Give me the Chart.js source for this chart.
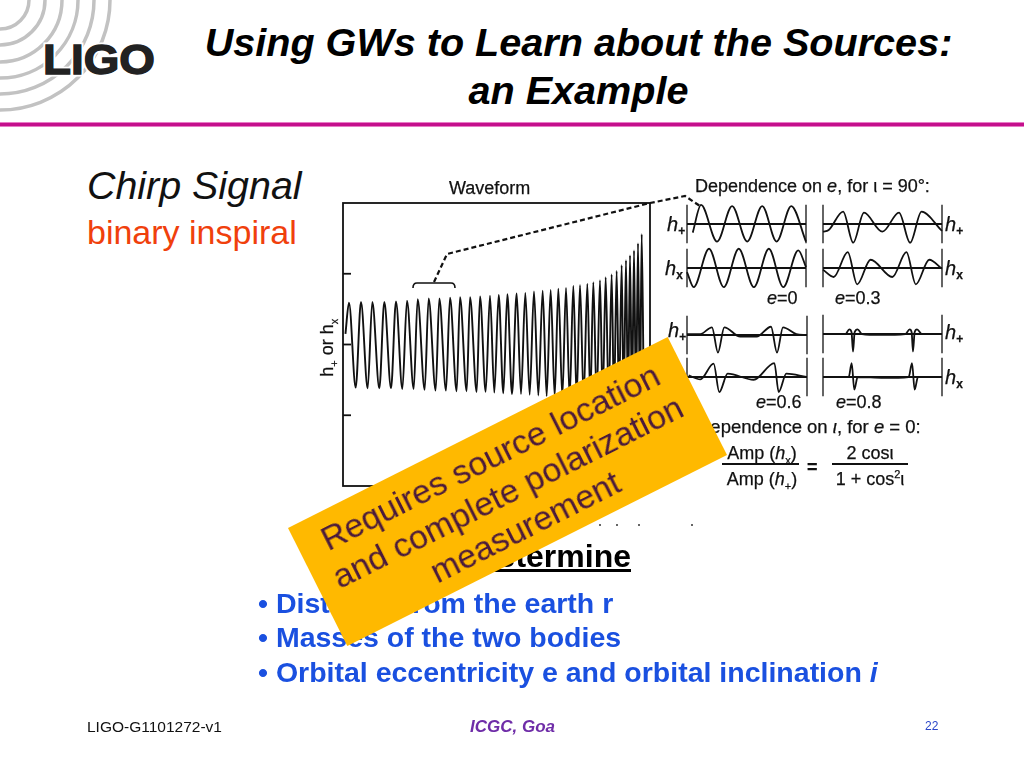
<!DOCTYPE html>
<html>
<head>
<meta charset="utf-8">
<title>Using GWs to Learn about the Sources</title>
<script src="https://cdn.jsdelivr.net/npm/chart.js@4"></script>
<style>
  html, body { margin: 0; padding: 0; background: #fff; }
  #slide { position: relative; width: 1024px; height: 768px; overflow: hidden; font-family: "Liberation Sans", Arial, sans-serif; }
  #slide > div, #slide > canvas, #slide > svg, #figure > div, #figure > canvas, #figure > svg { position: absolute; }
  #figure { left: 0; top: 0; width: 1024px; height: 768px; filter: blur(0.45px); color: #111; }
  .title { left: 140px; width: 877px; text-align: center; font: italic bold 39.6px "Liberation Sans"; color: #000; white-space: nowrap; }
  .bullet { left: 258px; font: bold 28.5px "Liberation Sans"; color: #1a50e0; white-space: nowrap; }
  .txt { font-size: 18px; white-space: nowrap; line-height: 1; -webkit-text-stroke: 0.25px #111; }
  .h { font-size: 20px; font-style: italic; white-space: nowrap; line-height: 1; -webkit-text-stroke: 0.25px #111; }
  .h sub { font-size: 12px; font-style: normal; font-weight: bold; vertical-align: -4px; line-height: 0; }
  .bar { height: 2px; background: #111; }
  #sticky { left: 288px; top: 425px; width: 425px; height: 132px; background: #ffb900; transform-origin: 0 0; }
  #sticky div { text-align: center; font-size: 34px; line-height: 39px; color: #4a1a3c; padding-top: 8px; }

  #wave { left: 341px; top: 201px; }
  #p0plus  { left: 685px; top: 200px; }
  #p0cross { left: 685px; top: 244px; }
  #p3plus  { left: 821px; top: 200px; }
  #p3cross { left: 821px; top: 244px; }
  #p6plus  { left: 685px; top: 311px; }
  #p6cross { left: 685px; top: 353px; }
  #p8plus  { left: 821px; top: 310px; }
  #p8cross { left: 821px; top: 353px; }
</style>
</head>
<body>
<div id="slide">

  <svg width="200" height="125" style="left:0;top:0">
    <g fill="none" stroke="#c2c2c2" stroke-width="3.5">
      <circle cx="0" cy="0" r="29"/><circle cx="0" cy="0" r="45"/><circle cx="0" cy="0" r="62"/>
      <circle cx="0" cy="0" r="78"/><circle cx="0" cy="0" r="94"/><circle cx="0" cy="0" r="110"/>
    </g>
    <text x="43" y="74" font-family="Liberation Sans" font-weight="bold" font-size="43" textLength="112" lengthAdjust="spacingAndGlyphs"
      fill="#222" stroke="#fff" stroke-width="5" paint-order="stroke">LIGO</text>
    <text x="43" y="74" font-family="Liberation Sans" font-weight="bold" font-size="43" textLength="112" lengthAdjust="spacingAndGlyphs"
      fill="#222" stroke="#222" stroke-width="1.4">LIGO</text>
  </svg>

  <div class="title" style="top:20px">Using GWs to Learn about the Sources:</div>
  <div class="title" style="top:68px">an Example</div>
  <div style="left:0;top:122px;width:1024px;height:5px;background:#e77cc6"></div>
  <div style="left:0;top:123px;width:1024px;height:3px;background:#c4108c"></div>

  <div style="left:87px;top:163px;font:italic 39.4px 'Liberation Sans';color:#111;white-space:nowrap">Chirp Signal</div>
  <div style="left:87px;top:213px;font:34px 'Liberation Sans';color:#f0400c;white-space:nowrap">binary inspiral</div>

  <div id="figure">
    <div class="txt" style="left:449px;top:179px">Waveform</div>
    <div class="txt" style="left:299px;top:337px;width:60px;text-align:center;transform:rotate(-90deg)">h<sub style="font-size:11px">+</sub> or h<sub style="font-size:11px">x</sub></div>
    <canvas id="wave" width="311" height="287"></canvas>

    <svg width="1024" height="768" style="left:0;top:0">
      <polyline points="434,282 447,254 650,203 685,196 700,206" fill="none" stroke="#111" stroke-width="2.2" stroke-dasharray="5 3"/>
      <path d="M413,288 Q413,283 417,283 L451,283 Q455,283 455,288" fill="none" stroke="#111" stroke-width="1.6"/>
      <g fill="#333"><circle cx="600" cy="525" r="1"/><circle cx="617" cy="525" r="1"/><circle cx="639" cy="525" r="1"/><circle cx="692" cy="525" r="1"/></g>
    </svg>

    <div class="txt" style="left:695px;top:177px">Dependence on <i>e</i>, for ι = 90°:</div>
    <canvas id="p0plus" width="123" height="48"></canvas>
    <canvas id="p0cross" width="123" height="48"></canvas>
    <canvas id="p3plus" width="123" height="48"></canvas>
    <canvas id="p3cross" width="123" height="48"></canvas>
    <canvas id="p6plus" width="124" height="48"></canvas>
    <canvas id="p6cross" width="124" height="48"></canvas>
    <canvas id="p8plus" width="123" height="48"></canvas>
    <canvas id="p8cross" width="123" height="48"></canvas>

    <div class="h" style="left:667px;top:214px">h<sub>+</sub></div>
    <div class="h" style="left:665px;top:258px">h<sub>x</sub></div>
    <div class="h" style="left:945px;top:214px">h<sub>+</sub></div>
    <div class="h" style="left:945px;top:258px">h<sub>x</sub></div>
    <div class="h" style="left:668px;top:320px">h<sub>+</sub></div>
    <div class="h" style="left:945px;top:322px">h<sub>+</sub></div>
    <div class="h" style="left:945px;top:367px">h<sub>x</sub></div>

    <div class="txt" style="left:767px;top:289px"><i>e</i>=0</div>
    <div class="txt" style="left:835px;top:289px"><i>e</i>=0.3</div>
    <div class="txt" style="left:756px;top:393px"><i>e</i>=0.6</div>
    <div class="txt" style="left:836px;top:393px"><i>e</i>=0.8</div>

    <div class="txt" style="left:697px;top:418px;font-size:18.5px">Dependence on <i>ι</i>, for <i>e</i> = 0:</div>
    <div class="txt" style="left:722px;width:80px;top:444px;text-align:center">Amp (<i>h</i><sub style="font-size:11px;line-height:0">x</sub>)</div>
    <div class="bar" style="left:722px;top:463px;width:77px"></div>
    <div class="txt" style="left:722px;width:80px;top:470px;text-align:center">Amp (<i>h</i><sub style="font-size:11px;line-height:0">+</sub>)</div>
    <div class="txt" style="left:807px;top:458px;font-weight:bold">=</div>
    <div class="txt" style="left:832px;width:76px;top:444px;text-align:center">2 cosι</div>
    <div class="bar" style="left:832px;top:463px;width:76px"></div>
    <div class="txt" style="left:832px;width:76px;top:470px;text-align:center">1 + cos<sup style="font-size:11px;line-height:0">2</sup>ι</div>
  </div>

  <div style="left:400px;width:231px;top:538px;text-align:right;font:bold 32px 'Liberation Sans';color:#000;text-decoration:underline;white-space:nowrap">Determine</div>

  <div class="bullet" style="top:587px">• Distance from the earth r</div>
  <div class="bullet" style="top:621px">• Masses of the two bodies</div>
  <div class="bullet" style="top:656px">• Orbital eccentricity e and orbital inclination <i>i</i></div>

  <div id="sticky" style="transform:translate(0,103px) rotate(-26.7deg)"><div>Requires source location<br>and complete polarization<br>measurement</div></div>

  <div style="left:87px;top:718px;font:15.5px 'Liberation Sans';color:#111;white-space:nowrap">LIGO-G1101272-v1</div>
  <div style="left:470px;top:717px;font:italic bold 17px 'Liberation Sans';color:#6f2da8;white-space:nowrap">ICGC, Goa</div>
  <div style="left:925px;top:719px;font:12px 'Liberation Sans';color:#2a45c8">22</div>
</div>

<script>
// Forma de onda principal: tempos e amplitudes dos picos e vales
const peakTimes = [1.95, 5.86, 9.55, 13.46, 17.26, 20.85, 24.32, 27.90, 31.38, 34.85, 38.11, 41.37, 44.63, 47.88, 50.71, 53.53, 56.57, 59.39, 62.21, 65.04, 67.64, 70.14, 72.64, 75.03, 77.20, 79.59, 81.54, 83.71, 85.56, 87.51, 89.14, 90.77, 92.18, 93.49, 94.79, 96.09, 97.29];
const peakAmps = [0.59, 0.60, 0.60, 0.60, 0.61, 0.62, 0.64, 0.65, 0.65, 0.66, 0.67, 0.67, 0.68, 0.69, 0.70, 0.71, 0.72, 0.73, 0.75, 0.76, 0.77, 0.79, 0.80, 0.83, 0.84, 0.86, 0.88, 0.91, 0.95, 0.99, 1.04, 1.12, 1.19, 1.26, 1.33, 1.43, 1.56];
const troughTimes = [4.13, 8.03, 11.83, 15.64, 19.33, 23.02, 26.60, 30.18, 33.55, 37.02, 40.28, 43.54, 46.47, 49.29, 52.23, 55.05, 57.98, 60.80, 63.63, 66.34, 68.95, 71.44, 73.83, 76.11, 78.39, 80.56, 82.63, 84.58, 86.54, 88.27, 89.90, 91.42, 92.83, 94.14, 95.44, 96.74, 98.00];
const troughAmps = [-0.61, -0.62, -0.62, -0.62, -0.63, -0.63, -0.64, -0.65, -0.65, -0.66, -0.66, -0.67, -0.67, -0.68, -0.69, -0.70, -0.70, -0.71, -0.72, -0.73, -0.73, -0.74, -0.75, -0.76, -0.76, -0.77, -0.78, -0.79, -0.80, -0.81, -0.82, -0.83, -0.84, -0.85, -0.86, -0.87, -0.90];
const waveStart = { x: 0.8, y: 0.15 };
const waveTicks = [-1, 0, 1];

// Painéis de dependência em e
const e0PlusX = [4.8, 11.8, 25.3, 37.9, 50.6, 63.2, 75.3, 87.6, 100];
const e0PlusY = [-0.47, 1.04, -0.96, 0.98, -0.96, 0.98, -0.96, 0.98, -0.96];
const e0CrossX = [0, 5.6, 18.5, 30.9, 43.5, 56.2, 68.8, 80.9, 93.5, 100];
const e0CrossY = [-0.22, -1.04, 1.05, -1.04, 1.05, -1.04, 1.05, -1.04, 0.96, 0.05];
const e3PlusX = [0, 4.8, 16.9, 25.4, 34.4, 49.9, 63.9, 73.2, 82.8, 100];
const e3PlusY = [-0.42, -0.33, 0.67, -1.02, 0.62, -0.42, 0.62, -1.02, 0.67, -0.38];
const e3CrossX = [0, 9, 20.8, 28.7, 40, 58.3, 70.1, 78, 89.3, 100];
const e3CrossY = [-0.09, -0.49, 0.87, -0.89, 0.45, -0.49, 0.87, -0.89, 0.45, -0.04];
const e6PlusX = [0, 11.1, 20.8, 25.8, 31.1, 44.4, 58, 70, 75, 80, 91.1, 99.4];
const e6PlusY = [0.05, 0.05, 0.42, -0.96, 0.42, -0.09, -0.09, 0.45, -0.96, 0.42, 0.05, 0];
const e6CrossX = [1.4, 11.1, 22.2, 26.9, 33.9, 55.6, 72.8, 76.4, 82.8, 99.4];
const e6CrossY = [0.09, -0.13, 0.73, -0.82, 0.18, -0.15, 0.76, -0.82, 0.18, 0];
const e8PlusX = [0, 18.8, 22.1, 24, 25.2, 26.6, 29.1, 32.8, 48, 69.2, 72.8, 74.5, 75.6, 77, 79, 83.2, 100];
const e8PlusY = [0, 0, 0.25, 0.1, -0.96, 0.1, 0.25, 0, -0.05, 0, 0.25, 0.1, -0.96, 0.1, 0.25, 0, 0];
const e8CrossX = [0, 21.6, 24.1, 26.3, 29.1, 51, 72, 74.8, 77, 79.8, 100];
const e8CrossY = [0, 0, 0.76, -0.69, 0, -0.05, 0, 0.76, -0.69, 0, 0];

const INK = '#111';

function toPoints(xs, ys) {
    return xs.map((x, i) => ({ x: x, y: ys[i] }));
}

// Junta picos e vales em ordem de tempo
function wavePoints() {
    const pts = [waveStart];
    peakTimes.forEach((t, i) => {
        pts.push({ x: t, y: peakAmps[i] });
        pts.push({ x: troughTimes[i], y: troughAmps[i] });
    });
    return pts;
}

function curve(points, width) {
    return {
        data: points,
        borderColor: INK,
        borderWidth: width,
        pointRadius: 0,
        showLine: true,
        cubicInterpolationMode: 'monotone',
        clip: false
    };
}

function straight(points, width) {
    return { data: points, borderColor: INK, borderWidth: width, pointRadius: 0, showLine: true, clip: false };
}

function baseOptions(yMin, yMax, pad) {
    return {
        responsive: false,
        animation: false,
        layout: { padding: pad },
        plugins: { legend: { display: false }, tooltip: { enabled: false } },
        scales: {
            x: { type: 'linear', min: 0, max: 100, display: false },
            y: { type: 'linear', min: yMin, max: yMax, display: false }
        }
    };
}

// Moldura e marcas internas do gráfico principal
const frameTicks = {
    id: 'frameTicks',
    afterDraw(chart) {
        const { left, right, top, bottom } = chart.chartArea;
        const c = chart.ctx;
        c.save();
        c.strokeStyle = INK;
        c.lineWidth = 1.8;
        c.strokeRect(left, top, right - left, bottom - top);
        waveTicks.forEach(v => {
            const py = chart.scales.y.getPixelForValue(v);
            c.beginPath();
            c.moveTo(left, py);
            c.lineTo(left + 8, py);
            c.stroke();
        });
        c.restore();
    }
};

new Chart(document.getElementById('wave'), {
    type: 'scatter',
    data: { datasets: [curve(wavePoints(), 1.9)] },
    options: baseOptions(-2, 2, 2),
    plugins: [frameTicks]
});

function initPanel(id, xs, ys) {
    new Chart(document.getElementById(id), {
        type: 'scatter',
        data: {
            datasets: [
                straight([{ x: 0, y: 0 }, { x: 100, y: 0 }], 2),
                straight([{ x: 0, y: -1.05 }, { x: 0, y: 1.05 }], 1.3),
                straight([{ x: 100, y: -1.05 }, { x: 100, y: 1.05 }], 1.3),
                curve(toPoints(xs, ys), 1.8)
            ]
        },
        options: baseOptions(-1.2, 1.2, 2)
    });
}

initPanel('p0plus', e0PlusX, e0PlusY);
initPanel('p0cross', e0CrossX, e0CrossY);
initPanel('p3plus', e3PlusX, e3PlusY);
initPanel('p3cross', e3CrossX, e3CrossY);
initPanel('p6plus', e6PlusX, e6PlusY);
initPanel('p6cross', e6CrossX, e6CrossY);
initPanel('p8plus', e8PlusX, e8PlusY);
initPanel('p8cross', e8CrossX, e8CrossY);
</script>
</body>
</html>
